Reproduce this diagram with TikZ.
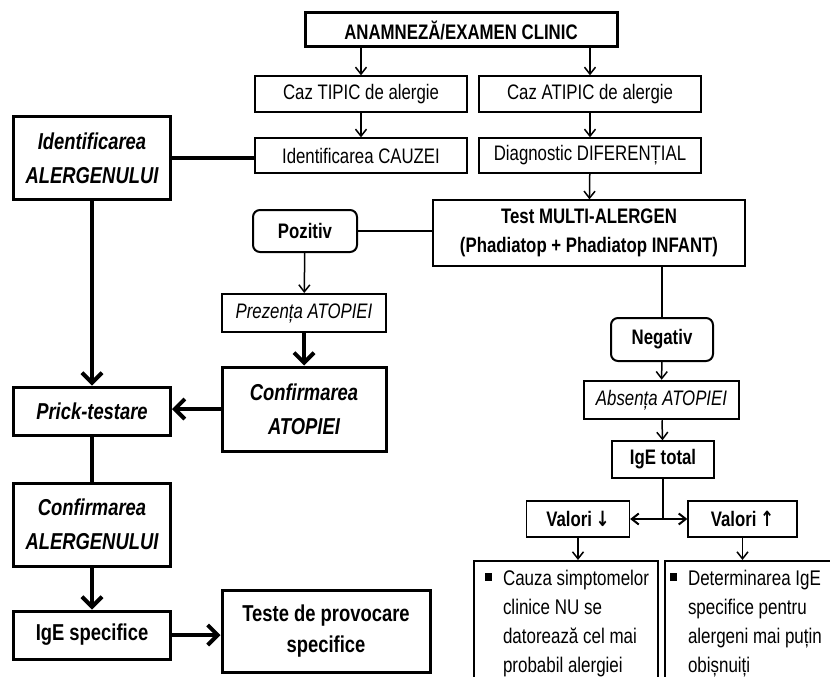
\documentclass[tikz,border=0pt]{standalone}
\usepackage{fontspec}
\setmainfont{Liberation Sans}[FakeStretch=0.8]
\newfontfamily\arrowfont{DejaVu Sans}[FakeStretch=0.8]
\usetikzlibrary{arrows.meta}

\newcommand{\normsz}{\fontsize{21}{29}\selectfont}
\newcommand{\bigsz}{\fontsize{23}{34}\selectfont}
\newcommand{\listsz}{\fontsize{21.2}{29}\selectfont}
\newcommand{\sqbullet}{\rule[4pt]{7pt}{8pt}}

\tikzset{
	plainbox/.style={draw, line width=1.3pt, inner sep=0pt, align=center, font=\normsz},
	boldbox/.style={plainbox, font=\normsz\bfseries},
	midbox/.style={plainbox, line width=2pt, font=\normsz\itshape},
	roundbox/.style={boldbox, line width=2pt, rounded corners=7pt},
	heavybox/.style={plainbox, line width=3pt, font=\bigsz\bfseries\itshape},
	heavyup/.style={heavybox, font=\bigsz\bfseries},
	listbox/.style={draw, line width=2pt, anchor=north west, inner ysep=4pt, text depth=130pt, font=\listsz},
	slim/.style={line width=1.5pt, -{Straight Barb[length=7pt,width=11pt]}},
	fat/.style={line width=4pt, -{Straight Barb[length=10pt,width=20pt]}},
	link/.style={line width=2pt},
	fatlink/.style={line width=4pt}
}

\begin{document}
\begin{tikzpicture}[x=1pt, y=-1pt]
	\useasboundingbox (0,0) rectangle (830,677);
	\clip (0,0) rectangle (830,677);

	% THE TOP ROW
	\node[heavyup, font=\normsz\bfseries, minimum width=312pt, minimum height=34pt] (anam) at (461,30) {ANAMNEZĂ/EXAMEN CLINIC};
	\node[plainbox, minimum width=212pt, minimum height=36pt] (tipic) at (361,94) {Caz TIPIC de alergie};
	\node[plainbox, minimum width=222pt, minimum height=36pt] (atipic) at (590,94) {Caz ATIPIC de alergie};
	\node[plainbox, minimum width=212pt, minimum height=35pt] (cauzei) at (361,155.5) {Identificarea CAUZEI};
	\node[plainbox, minimum width=222pt, minimum height=35pt] (dif) at (590,155.5) {Diagnostic DIFERENȚIAL};
	%
	% THE LEFT COLUMN
	\node[heavybox, minimum width=157pt, minimum height=83pt] (idental) at (92,158) {Identificarea\\ALERGENULUI};
	\node[heavybox, minimum width=157pt, minimum height=48pt] (prick) at (92,411) {Prick-testare};
	\node[heavybox, minimum width=157pt, minimum height=83pt] (confal) at (92,524.5) {Confirmarea\\ALERGENULUI};
	\node[heavyup, minimum width=157pt, minimum height=48pt] (igespec) at (92,635) {IgE specifice};
	\node[heavyup, minimum width=208pt, minimum height=82pt, font=\fontsize{23}{31}\selectfont\bfseries] (teste) at (326,631) {Teste de provocare\\specifice};
	%
	% THE MIDDLE
	\node[roundbox, minimum width=104pt, minimum height=42pt] (pozitiv) at (305,231) {Pozitiv};
	\node[boldbox, minimum width=312pt, minimum height=66pt] (test) at (589,233) {Test MULTI-ALERGEN\\(Phadiatop + Phadiatop INFANT)};
	\node[midbox, minimum width=164pt, minimum height=38pt] (prezenta) at (304,313) {Prezența ATOPIEI};
	\node[heavybox, minimum width=164pt, minimum height=84pt] (confat) at (304,409) {Confirmarea\\ATOPIEI};
	%
	% THE RIGHT COLUMN
	\node[roundbox, minimum width=102pt, minimum height=43pt] (negativ) at (662,339.5) {Negativ};
	\node[midbox, line width=2.5pt, minimum width=155pt, minimum height=38pt] (absenta) at (661.5,400) {Absența ATOPIEI};
	\node[boldbox, minimum width=102pt, minimum height=37pt] (igetotal) at (663,459.5) {IgE total};
	\node[boldbox, minimum width=103pt, minimum height=36pt] (valdown) at (578,519) {Valori\,{\arrowfont ↓}};
	\node[boldbox, minimum width=109pt, minimum height=36pt] (valup) at (742.5,519) {Valori\,{\arrowfont ↑}};
	\coordinate (split) at (663,519);
	%
	% THE LISTS
	\node[listbox, inner xsep=11pt] (lowlist) at (473,560) {\makebox[162pt][l]{\begin{tabular}[t]{@{}l@{\hspace{11pt}}l@{}}
		\sqbullet & Cauza simptomelor\\
		& clinice NU se\\
		& datorează cel mai\\
		& probabil alergiei
	\end{tabular}}};
	\node[listbox, inner xsep=5pt] (highlist) at (664,560) {\makebox[190pt][l]{\begin{tabular}[t]{@{}l@{\hspace{11pt}}l@{}}
		\sqbullet & Determinarea IgE\\
		& specifice pentru\\
		& alergeni mai puțin\\
		& obișnuiți
	\end{tabular}}};
	%
	% THE CONNECTORS
	% TOP
	\draw[slim] (tipic.north |- anam.south) -- (tipic.north);
	\draw[slim] (atipic.north |- anam.south) -- (atipic.north);
	\draw[slim] (tipic) -- (cauzei);
	\draw[slim] (atipic) -- (dif);
	\draw[slim] (dif) -- (test);
	% LEFT
	\draw[fatlink] (idental.east) -- (idental.east -| cauzei.west);
	\draw[fat] (idental) -- (prick);
	\draw[fatlink] (prick) -- (confal);
	\draw[fat] (confal) -- (igespec);
	\draw[fat] (igespec.east) -- (igespec.east -| teste.west);
	% MIDDLE
	\draw[link] (pozitiv.east) -- (pozitiv.east -| test.west);
	\draw[slim] (pozitiv) -- (prezenta);
	\draw[fat] (prezenta) -- (confat);
	\draw[fat] (confat.west) -- (confat.west -| prick.east);
	% RIGHT
	\draw[link] (test.south -| negativ.north) -- (negativ.north);
	\draw[slim] (negativ) -- (absenta);
	\draw[slim] (absenta) -- (igetotal);
	\draw[link] (igetotal.south) -- (split);
	\draw[slim, line width=2pt] (split) -- (valdown.east);
	\draw[slim, line width=2pt] (split) -- (valup.west);
	\draw[slim] (valdown.south) -- (valdown.south |- lowlist.north);
	\draw[slim] (valup.south) -- (valup.south |- highlist.north);
\end{tikzpicture}
\end{document}
